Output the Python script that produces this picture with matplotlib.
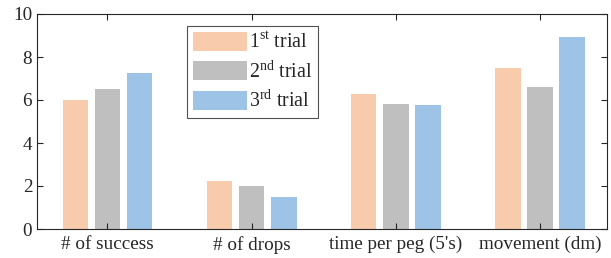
import numpy as np
import matplotlib.pyplot as plt

plt.rcParams['font.family'] = ['Liberation Serif', 'DejaVu Serif']
plt.rcParams['mathtext.fontset'] = 'custom'
plt.rcParams['mathtext.rm'] = 'Liberation Serif'

# data
categories = ['# of success', '# of drops', "time per peg (5's)", 'movement (dm)']
trial1 = [6.0, 2.25, 6.3, 7.5]
trial2 = [6.5, 2.0, 5.8, 6.62]
trial3 = [7.25, 1.5, 5.77, 8.93]
labels = [r'1$^{\mathrm{st}}$ trial', r'2$^{\mathrm{nd}}$ trial', r'3$^{\mathrm{rd}}$ trial']
colors = ['#F7CBAC', '#BFBFBF', '#9DC3E6']

dark = '#262626'
fig = plt.figure(figsize=(6.11, 2.58), dpi=100)
ax = fig.add_axes([37/611, 1 - 229/258, 570/611, 215/258])

x = np.arange(1, len(categories) + 1)
w = 0.178
off = 0.223
for i, vals in enumerate([trial1, trial2, trial3]):
    ax.bar(x + (i - 1) * off, vals, width=w, color=colors[i], label=labels[i])

ax.set_xlim(0.511, 4.465)
ax.set_ylim(0, 10)
ax.set_yticks([0, 2, 4, 6, 8, 10])
ax.set_xticks(x)
ax.set_xticklabels(categories)
ax.tick_params(direction='in', top=True, right=True, colors=dark, labelsize=13.8,
               length=4, width=0.8, labelcolor=dark)
ax.tick_params(axis='x', pad=5)
for s in ax.spines.values():
    s.set_color(dark)
    s.set_linewidth(0.8)

leg = ax.legend(loc='upper left', bbox_to_anchor=((187 - 37) / 570, (229 - 26) / 215),
                fontsize=14.3, frameon=True, fancybox=False, handlelength=2.7,
                handleheight=1.1, labelspacing=0.38, borderpad=0.3,
                handletextpad=0.12, borderaxespad=0)
leg.get_frame().set_edgecolor(dark)
leg.get_frame().set_linewidth(0.8)
for t in leg.get_texts():
    t.set_color(dark)

fig.savefig('out.png', dpi=100)
